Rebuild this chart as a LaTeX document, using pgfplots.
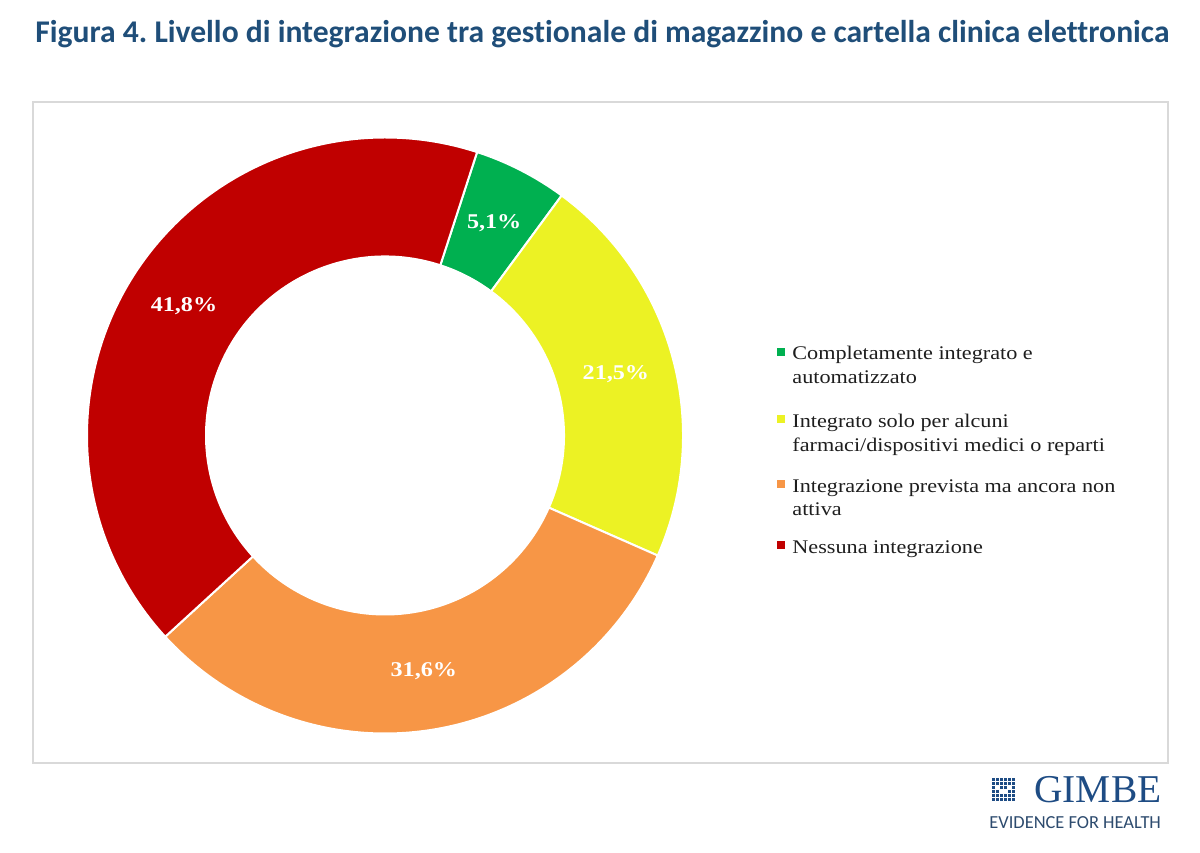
\documentclass[border=0pt]{standalone}
\usepackage{pgfplots}
\pgfplotsset{compat=1.18}
\usepackage{pgfplotstable}
\usepackage{fontspec}
\setmainfont{Liberation Serif}
\newfontfamily\legfont[FakeStretch=1.15]{Liberation Serif}
\newfontfamily\titlefont[Ligatures=NoCommon]{Carlito}
\definecolor{cgreen}{RGB}{0,176,80}
\definecolor{cyellow}{RGB}{236,242,36}
\definecolor{corange}{RGB}{247,150,70}
\definecolor{cred}{RGB}{192,0,0}
\definecolor{titleblue}{RGB}{31,78,121}
\definecolor{logoblue}{RGB}{30,76,132}
\definecolor{logogray}{RGB}{45,75,110}
\definecolor{framegray}{RGB}{217,217,217}
\definecolor{legtext}{RGB}{30,30,30}

\pgfplotstableread{
idx value
0 5.1
1 21.5
2 31.6
3 41.8
}\donutdata

\newcommand\slice[3]{%
  \fill[#1,draw=white,line width=1bp]
    ([shift={(#2:149bp)}]C) arc[start angle=#2,end angle=#3,radius=149bp]
    -- ([shift={(#3:89.5bp)}]C) arc[start angle=#3,end angle=#2,radius=89.5bp] -- cycle;}

\begin{document}
\frenchspacing
\begin{tikzpicture}
\pgfplotstablegetelem{0}{value}\of\donutdata \let\vA\pgfplotsretval
\pgfplotstablegetelem{1}{value}\of\donutdata \let\vB\pgfplotsretval
\pgfplotstablegetelem{2}{value}\of\donutdata \let\vC\pgfplotsretval
\pgfplotstablegetelem{3}{value}\of\donutdata \let\vD\pgfplotsretval
\pgfmathsetmacro\aA{72}
\pgfmathsetmacro\aB{\aA-3.6*\vA}
\pgfmathsetmacro\aC{\aB-3.6*\vB}
\pgfmathsetmacro\aD{\aC-3.6*\vC}
\pgfmathsetmacro\aE{\aD-3.6*\vD}
\pgfmathsetmacro\mA{(\aA+\aB)/2}
\pgfmathsetmacro\mB{(\aB+\aC)/2}
\pgfmathsetmacro\mC{(\aC+\aD)/2}
\pgfmathsetmacro\mD{(\aD+\aE)/2}

\begin{axis}[x=0.5bp,y=0.5bp,xmin=0,xmax=1200,ymin=0,ymax=852,
  hide axis,clip=false,at={(0,0)},anchor=origin]
\path (axis cs:0,0) rectangle (axis cs:1200,852);
\coordinate (C) at (axis cs:385,416.5);
\slice{cgreen}{\aA}{\aB}
\slice{cyellow}{\aB}{\aC}
\slice{corange}{\aC}{\aD}
\slice{cred}{\aD}{\aE}
\tikzset{lab/.style={text=white,inner sep=0,font=\legfont\bfseries\fontsize{10.5bp}{12bp}\selectfont}}
\node[lab] at ([shift={(\mA:119.5bp)}]C) {5,1\%};
\node[lab] at ([shift={(\mB:119.5bp)}]C) {21,5\%};
\node[lab] at ([shift={(\mC:119.5bp)}]C) {31,6\%};
\node[lab] at ([shift={(\mD:119.5bp)}]C) {41,8\%};
\end{axis}

\begin{scope}[x=0.5bp,y=0.5bp]
% title
\node[anchor=base west,inner sep=0,text=titleblue,font=\titlefont\bfseries\fontsize{15.8bp}{18bp}\selectfont]
  at (35,852-43) {Figura 4. Livello di integrazione tra gestionale di magazzino e cartella clinica elettronica};
% frame
\draw[framegray,line width=0.7bp] (33,852-102) rectangle (1168,852-763);
% legend
\tikzset{leg/.style={anchor=base west,inner sep=0,text=legtext,font=\legfont\fontsize{9.65bp}{12bp}\selectfont}}
\fill[cgreen]  (777,852-356) rectangle (785,852-348);
\fill[cyellow] (777,852-423) rectangle (785,852-415);
\fill[corange] (777,852-488) rectangle (785,852-480);
\fill[cred]    (777,852-549) rectangle (785,852-541);
\node[leg] at (792,852-359.5) {Completamente integrato e};
\node[leg] at (792,852-384) {automatizzato};
\node[leg] at (792,852-427) {Integrato solo per alcuni};
\node[leg] at (792,852-451) {farmaci/dispositivi medici o reparti};
\node[leg] at (792,852-492) {Integrazione prevista ma ancora non};
\node[leg] at (792,852-515.5) {attiva};
\node[leg] at (792,852-553) {Nessuna integrazione};
% logo
\foreach \i in {0,...,5}{\foreach \j in {0,...,5}{
  \fill[logoblue] (992+4*\i,852-778-4*\j) rectangle ++(3,-3);}}
\fill[white] (996,852-786) rectangle ++(3,-3);
\fill[white] (1008,852-786) rectangle ++(3,-3);
\fill[white] (1000,852-790) rectangle ++(3,-3);
\fill[white] (1004,852-790) rectangle ++(3,-3);
\node[anchor=base west,inner sep=0,text=logoblue,font=\fontsize{19.7bp}{20bp}\selectfont]
  at (1034,852-802.3) {GIMBE};
\node[anchor=base west,inner sep=0,text=logogray,font=\titlefont\fontsize{9.2bp}{10bp}\selectfont]
  at (989,852-828) {EVIDENCE FOR HEALTH};
\end{scope}
\end{tikzpicture}
\end{document}
